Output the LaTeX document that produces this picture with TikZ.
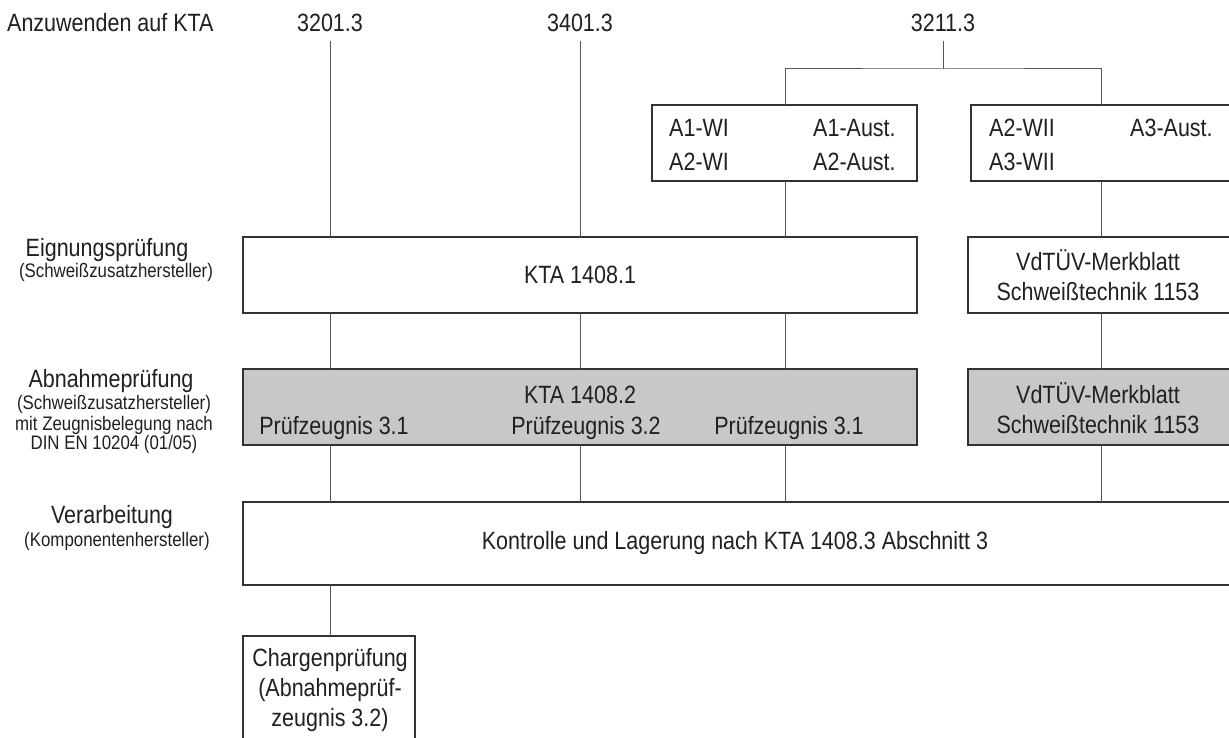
\documentclass[tikz,border=0pt]{standalone}
\usepackage{fontspec}
\setmainfont[FakeStretch=0.86]{Liberation Sans}
\definecolor{txt}{HTML}{231F20}
\definecolor{boxc}{HTML}{333333}
\definecolor{linec}{HTML}{555555}
\definecolor{grayf}{HTML}{C8C8C8}
\begin{document}
\begin{tikzpicture}[x=1pt,y=-1pt,
  box/.style={draw=boxc, line width=1.3pt, inner sep=0pt, outer sep=0pt, anchor=north west},
  gbox/.style={box, fill=grayf},
  conn/.style={draw=linec, line width=1pt},
  big/.style={font=\fontsize{25}{30}\selectfont, text=txt, inner sep=0pt},
  small/.style={font=\fontsize{19.6}{21}\selectfont, text=txt, inner sep=0pt}]
\useasboundingbox[fill=white] (0,0) rectangle (1229,738);
\begin{scope}
\clip (0,0) rectangle (1229,738);

% header labels
\node[big, anchor=base west] (anz) at (7,32) {Anzuwenden auf KTA};
\node[big, anchor=base] (k1) at (330,32) {3201.3};
\node[big, anchor=base] (k2) at (580,32) {3401.3};
\node[big, anchor=base] (k3) at (943,32) {3211.3};

% boxes
\node[box, minimum width=265pt, minimum height=76pt] (a1) at (652,105) {};
\node[box, minimum width=270pt, minimum height=76pt] (a2) at (971,105) {};
\node[box, minimum width=674pt, minimum height=76pt] (eig) at (243,237) {};
\node[box, minimum width=270pt, minimum height=76pt] (v1) at (968,237) {};
\node[gbox, minimum width=674pt, minimum height=76pt] (abn) at (243,369) {};
\node[gbox, minimum width=270pt, minimum height=76pt] (v2) at (968,369) {};
\node[box, minimum width=995pt, minimum height=83pt] (ver) at (243,502) {};
\node[box, minimum width=172pt, minimum height=130pt] (chg) at (243,636) {};

% texts in boxes
\node[big, anchor=base west] (a1t1) at (669,137) {A1-WI};
\node[big, anchor=base west] (a1t2) at (813,137) {A1-Aust.};
\node[big, anchor=base west] (a1t3) at (669,171) {A2-WI};
\node[big, anchor=base west] (a1t4) at (813,171) {A2-Aust.};
\node[big, anchor=base west] (a2t1) at (989,137) {A2-WII};
\node[big, anchor=base west] (a2t2) at (1130,137) {A3-Aust.};
\node[big, anchor=base west] (a2t3) at (989,171) {A3-WII};

\node[big] (eigt) at (580,275) {KTA 1408.1};
\node[big, anchor=base] (v1t1) at (1098,270) {VdTÜV-Merkblatt};
\node[big, anchor=base] (v1t2) at (1098,300) {Schweißtechnik 1153};

\node[big, anchor=base] (abnt) at (580,403) {KTA 1408.2};
\node[big, anchor=base] (p1) at (334,434) {Prüfzeugnis 3.1};
\node[big, anchor=base] (p2) at (586,434) {Prüfzeugnis 3.2};
\node[big, anchor=base] (p3) at (789,434) {Prüfzeugnis 3.1};
\node[big, anchor=base] (v2t1) at (1098,403) {VdTÜV-Merkblatt};
\node[big, anchor=base] (v2t2) at (1098,433) {Schweißtechnik 1153};

\node[big] (vert) at (735,543) {Kontrolle und Lagerung nach KTA 1408.3 Abschnitt 3};

\node[big, anchor=base] (c1) at (330,666) {Chargenprüfung};
\node[big, anchor=base] (c2) at (330,696) {(Abnahmeprüf-};
\node[big, anchor=base] (c3) at (330,726) {zeugnis 3.2)};

% left labels
\node[big, anchor=base] (l1) at (107,257) {Eignungsprüfung};
\node[small, anchor=base] (l1s) at (116,277) {(Schweißzusatzhersteller)};
\node[big, anchor=base] (l2) at (111,387) {Abnahmeprüfung};
\node[small, anchor=base] (l2s) at (114,409) {(Schweißzusatzhersteller)};
\node[small, anchor=base] (l2b) at (114,430) {mit Zeugnisbelegung nach};
\node[small, anchor=base] (l2c) at (114,449) {DIN EN 10204 (01/05)};
\node[big, anchor=base] (l3) at (112,523) {Verarbeitung};
\node[small, anchor=base] (l3s) at (117,546) {(Komponentenhersteller)};

% connectors
\coordinate (s1) at (330,41);
\coordinate (s2) at (580,41);
\coordinate (s3) at (943,41);
\coordinate (br) at (943,69);
\coordinate (x1) at (330,0);
\coordinate (x2) at (580,0);
\coordinate (x3) at (785,0);
\coordinate (x4) at (1101,0);

\draw[conn] (s1) -- (eig.north -| s1);
\draw[conn] (s2) -- (eig.north -| s2);
\draw[conn] (s3) -- (br);
\draw[conn] (a1.north -| x3) |- (br) -| (a2.north -| x4);
\draw[conn] (a1.south -| x3) -- (eig.north -| x3);
\draw[conn] (a2.south -| x4) -- (v1.north -| x4);

\draw[conn] (eig.south -| x1) -- (abn.north -| x1);
\draw[conn] (eig.south -| x2) -- (abn.north -| x2);
\draw[conn] (eig.south -| x3) -- (abn.north -| x3);
\draw[conn] (v1.south -| x4) -- (v2.north -| x4);

\draw[conn] (abn.south -| x1) -- (ver.north -| x1);
\draw[conn] (abn.south -| x2) -- (ver.north -| x2);
\draw[conn] (abn.south -| x3) -- (ver.north -| x3);
\draw[conn] (v2.south -| x4) -- (ver.north -| x4);

\draw[conn] (ver.south -| x1) -- (chg.north -| x1);
\end{scope}
\end{tikzpicture}
\end{document}
